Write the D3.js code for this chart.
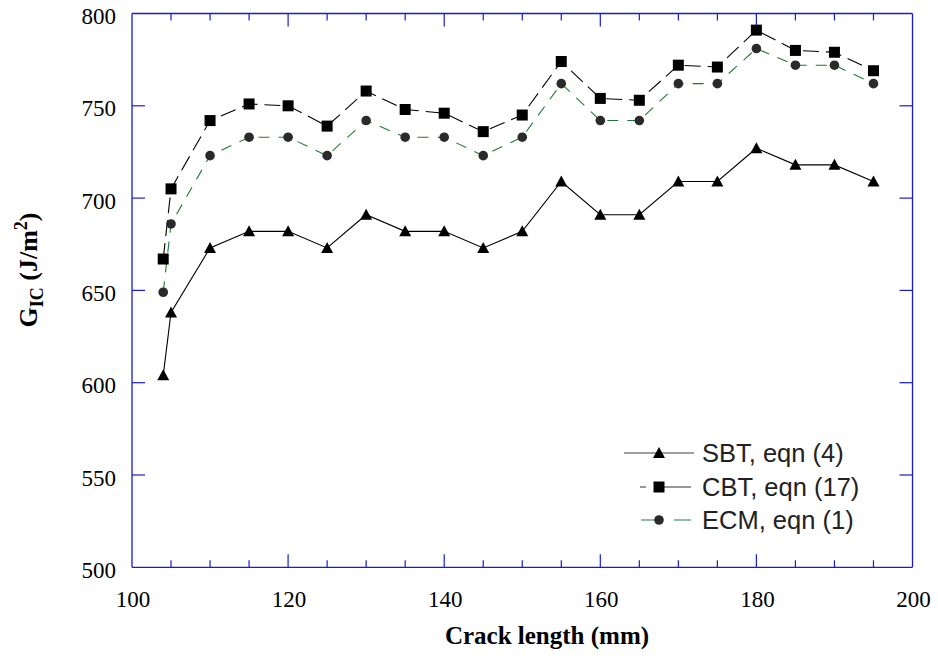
<!DOCTYPE html>
<html><head><meta charset="utf-8">
<script src="https://cdn.jsdelivr.net/npm/d3@7"></script>
<style>body{margin:0;background:#fff}svg{display:block}</style>
</head><body>
<svg id="c" width="938" height="662"></svg>
<script>
const crackLength = [104,105,110,115,120,125,130,135,140,145,150,155,160,165,170,175,180,185,190,195];
const sbt = [604,638,673,682,682,673,691,682,682,673,682,709,691,691,709,709,727,718,718,709];
const cbt = [667,705,742,751,750,739,758,748,746,736,745,774,754,753,772,771,791,780,779,769];
const ecm = [649,686,723,733,733,723,742,733,733,723,733,762,742,742,762,762,781,772,772,762];
const seriesNames = ["SBT, eqn (4)","CBT, eqn (17)","ECM, eqn (1)"];
const xTicks = [100,120,140,160,180,200];
const yTicks = [500,550,600,650,700,750,800];

const svg = d3.select("#c");
const L=132, R=912.5, T=13.5, B=567.3;
const x = d3.scaleLinear().domain([100,200]).range([L,R]);
const y = d3.scaleLinear().domain([500,800]).range([B,T]);
const axisColor = "#1a1ad6";

// frame
const g = svg.append("g");
g.append("line").attr("x1",L).attr("x2",R).attr("y1",B).attr("y2",B).attr("stroke",axisColor).attr("stroke-width",1.3);
g.append("line").attr("x1",L).attr("x2",R).attr("y1",T).attr("y2",T).attr("stroke",axisColor).attr("stroke-width",1.3);
g.append("line").attr("x1",L).attr("x2",L).attr("y1",T).attr("y2",B).attr("stroke",axisColor).attr("stroke-width",1.3);
g.append("line").attr("x1",R).attr("x2",R).attr("y1",T).attr("y2",B).attr("stroke",axisColor).attr("stroke-width",1.3);

// x ticks (inward, top and bottom)
const xMinor = d3.range(100,201,5);
xMinor.forEach(v=>{
  const major = v%20===0;
  const len = major?13:7;
  if (v===100||v===200) return;
  g.append("line").attr("x1",x(v)).attr("x2",x(v)).attr("y1",B).attr("y2",B-len).attr("stroke",axisColor).attr("stroke-width",1.2);
  g.append("line").attr("x1",x(v)).attr("x2",x(v)).attr("y1",T).attr("y2",T+len).attr("stroke",axisColor).attr("stroke-width",1.2);
});
yTicks.forEach(v=>{
  if (v===500||v===800) return;
  g.append("line").attr("x1",L).attr("x2",L+13).attr("y1",y(v)).attr("y2",y(v)).attr("stroke",axisColor).attr("stroke-width",1.2);
  g.append("line").attr("x1",R).attr("x2",R-13).attr("y1",y(v)).attr("y2",y(v)).attr("stroke",axisColor).attr("stroke-width",1.2);
});

// tick labels
const serif = "'Liberation Serif','Times New Roman',serif";
g.selectAll(".xl").data(xTicks).enter().append("text")
  .attr("x",d=>x(d)+1).attr("y",607).attr("text-anchor","middle")
  .attr("font-family",serif).attr("font-size",23).attr("fill","#000").text(d=>d);
g.selectAll(".yl").data(yTicks).enter().append("text")
  .attr("x",116).attr("y",d=>y(d)+10.5).attr("text-anchor","end")
  .attr("font-family",serif).attr("font-size",23).attr("fill","#000").text(d=>d);

// axis titles
svg.append("text").attr("x",547).attr("y",644).attr("text-anchor","middle")
  .attr("font-family",serif).attr("font-size",25).attr("font-weight","bold").text("Crack length (mm)");
const yt = svg.append("text").attr("transform","translate(37,270) rotate(-90)").attr("text-anchor","middle")
  .attr("font-family",serif).attr("font-size",26).attr("font-weight","bold");
yt.append("tspan").text("G");
yt.append("tspan").attr("font-size",18).attr("dy",6).text("IC");
yt.append("tspan").attr("dy",-6).text(" (J/m");
yt.append("tspan").attr("font-size",18).attr("dy",-10).text("2");
yt.append("tspan").attr("dy",10).text(")");

// series
const pts = arr => arr.map((v,i)=>[crackLength[i],v]);
const line = d3.line().x(d=>x(d[0])).y(d=>y(d[1]));
const series = [
  {vals:sbt, color:"#000", dash:null, marker:"triangle"},
  {vals:cbt, color:"#000", dash:"16,7", marker:"square"},
  {vals:ecm, color:"#1e7a32", dash:"11,9", marker:"circle"}
];
function drawMarker(sel, type, cx, cy){
  if(type==="triangle"){
    sel.append("path").attr("d",`M${cx},${cy-6}L${cx+6},${cy+5}L${cx-6},${cy+5}Z`).attr("fill","#000");
  } else if(type==="square"){
    sel.append("rect").attr("x",cx-5.5).attr("y",cy-5.5).attr("width",11).attr("height",11).attr("fill","#000");
  } else {
    sel.append("circle").attr("cx",cx).attr("cy",cy).attr("r",4.8).attr("fill","#2a2a2a");
  }
}
series.slice().reverse().forEach(s=>{
  const p = pts(s.vals);
  svg.append("path").attr("d",line(p)).attr("fill","none").attr("stroke",s.color)
    .attr("stroke-width",1.1).attr("stroke-dasharray",s.dash);
});
series.forEach(s=>{
  const mg = svg.append("g");
  pts(s.vals).forEach(d=>drawMarker(mg,s.marker,x(d[0]),y(d[1])));
});

// legend
const sans = "'Liberation Sans',Arial,sans-serif";
const legY = [453,487,520];
const lg = svg.append("g");
// SBT
lg.append("line").attr("x1",624).attr("x2",694).attr("y1",legY[0]).attr("y2",legY[0]).attr("stroke","#444").attr("stroke-width",1.1);
drawMarker(lg,"triangle",659,legY[0]);
// CBT
lg.append("line").attr("x1",640).attr("x2",646).attr("y1",legY[1]).attr("y2",legY[1]).attr("stroke","#444").attr("stroke-width",1.1);
lg.append("line").attr("x1",659).attr("x2",691).attr("y1",legY[1]).attr("y2",legY[1]).attr("stroke","#444").attr("stroke-width",1.1);
drawMarker(lg,"square",659,legY[1]);
// ECM
lg.append("line").attr("x1",641).attr("x2",658).attr("y1",legY[2]).attr("y2",legY[2]).attr("stroke","#3a8a4a").attr("stroke-width",1.1);
lg.append("line").attr("x1",674).attr("x2",691).attr("y1",legY[2]).attr("y2",legY[2]).attr("stroke","#3a8a4a").attr("stroke-width",1.1);
drawMarker(lg,"circle",659,legY[2]);
lg.selectAll(".lt").data(seriesNames).enter().append("text")
  .attr("x",702).attr("y",(d,i)=>legY[i]+9)
  .attr("font-family",sans).attr("font-size",25.5).attr("fill","#222").text(d=>d);
</script>
</body></html>
